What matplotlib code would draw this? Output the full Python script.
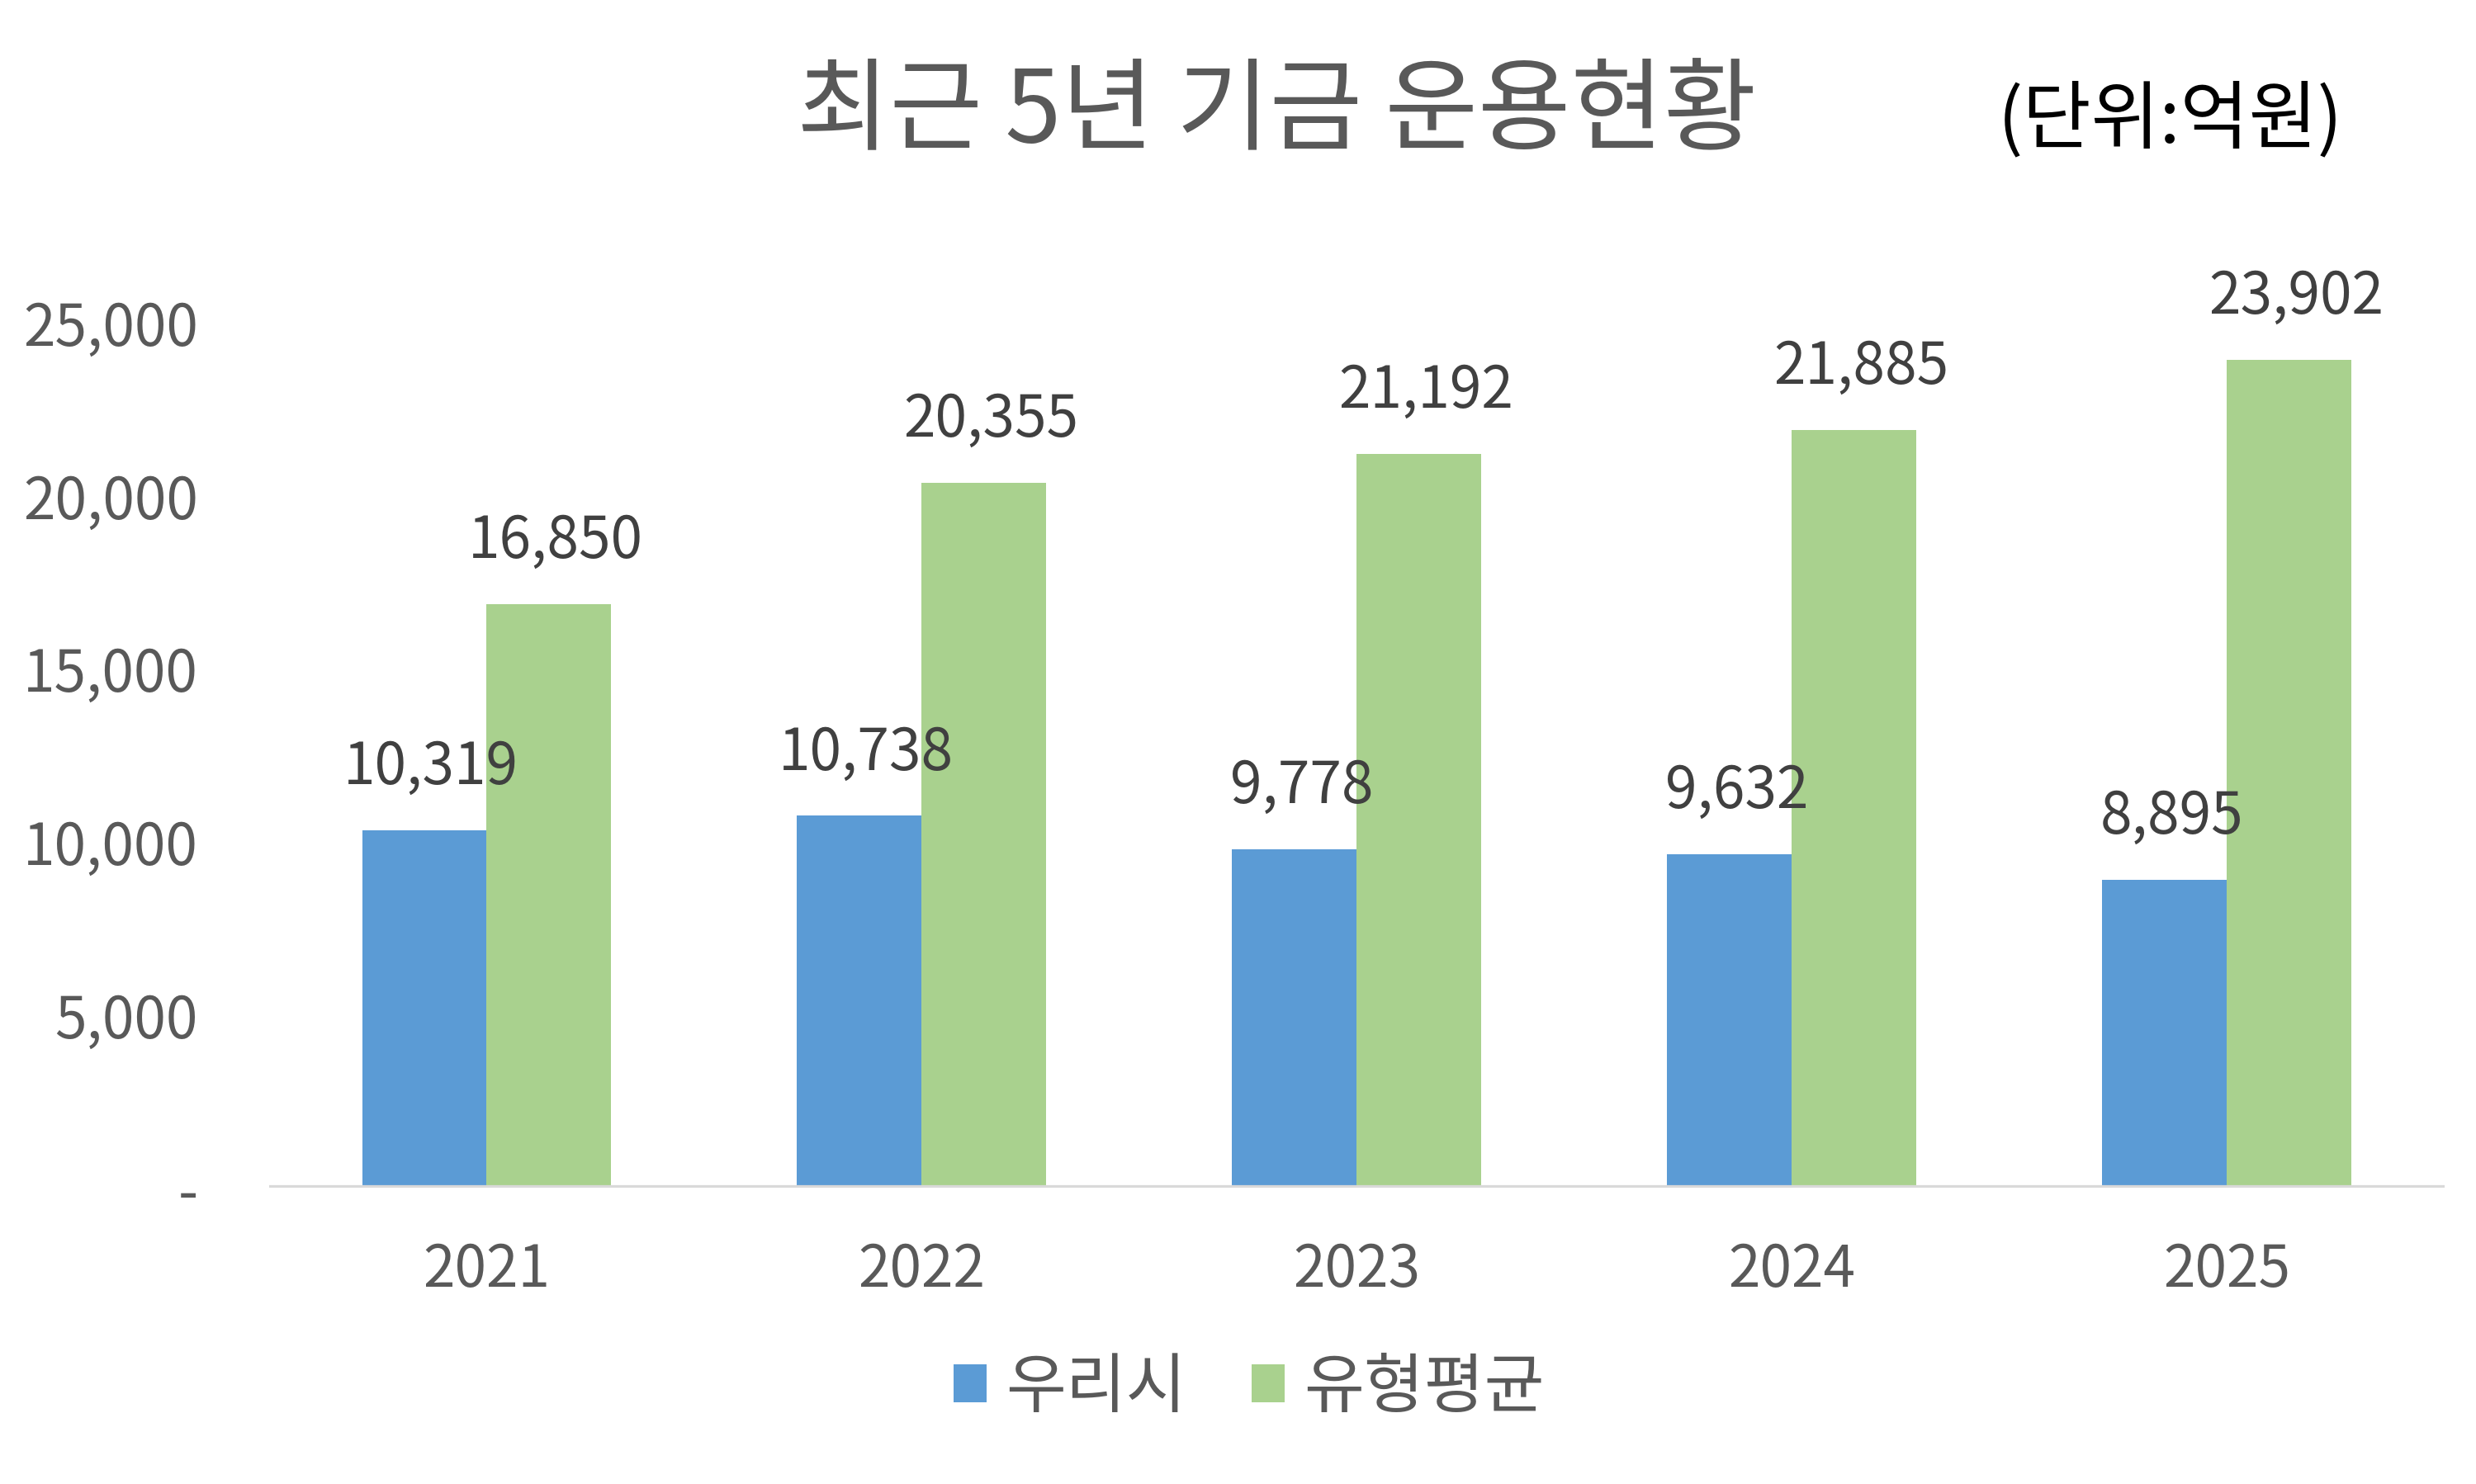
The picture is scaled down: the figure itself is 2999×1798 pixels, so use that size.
import matplotlib
matplotlib.use("Agg")
import matplotlib.pyplot as plt
import numpy as np

plt.rcParams['font.family'] = ['Noto Sans CJK KR', 'DejaVu Sans']

# data
years = ['2021', '2022', '2023', '2024', '2025']
our_city = [10319, 10738, 9778, 9632, 8895]
type_avg = [16850, 20355, 21192, 21885, 23902]
series_names = ['우리시', '유형평균']
y_ticks = [0, 5000, 10000, 15000, 20000, 25000]

blue = '#5B9BD5'
green = '#A9D18E'
gray_txt = '#595959'
label_txt = '#404040'

fig = plt.figure(figsize=(29.99, 17.99), dpi=100)
ax = fig.add_axes([0.1087, 0.1996, 0.8786, 0.5831])

x = np.arange(len(years))
w = 0.2865
b1 = ax.bar(x - w / 2, our_city, w, color=blue, label=series_names[0], zorder=2)
b2 = ax.bar(x + w / 2, type_avg, w, color=green, label=series_names[1], zorder=2)

# value labels above bars
for bars, vals in ((b1, our_city), (b2, type_avg)):
    for rect, v in zip(bars, vals):
        ax.annotate(f'{v:,}', (rect.get_x() + rect.get_width() / 2, v),
                    xytext=(6, 41), textcoords='offset points',
                    ha='center', va='baseline', fontsize=50, color=label_txt,
                    annotation_clip=False)

ax.set_xlim(-0.5, 4.5)
ax.set_ylim(0, 25000)
ax.set_xticks(x)
ax.set_xticklabels(years)
ax.set_yticks(y_ticks)
ax.set_yticklabels(['-' if t == 0 else f'{t:,}' for t in y_ticks])
ax.tick_params(axis='both', length=0, labelsize=50, colors=gray_txt)
ax.tick_params(axis='x', pad=46)
ax.tick_params(axis='y', pad=62)

for s in ['top', 'right', 'left', 'bottom']:
    ax.spines[s].set_visible(False)
ax.axhline(0, color='#D9D9D9', lw=4.5, zorder=3)

fig.text(0.5155, 0.904, '최근 5년 기금 운용현황', ha='center', va='baseline',
         fontsize=88, color=gray_txt)
fig.text(0.9462, 0.904, '(단위:억원)', ha='right', va='baseline',
         fontsize=65, color='black')

fig.legend(loc='center', bbox_to_anchor=(0.5045, 0.0647), ncol=2, frameon=False,
           fontsize=57, labelcolor=gray_txt, handlelength=0.5, handleheight=0.52,
           handletextpad=0.3, columnspacing=1.0, borderpad=0)

fig.savefig('out.png', dpi=100)
